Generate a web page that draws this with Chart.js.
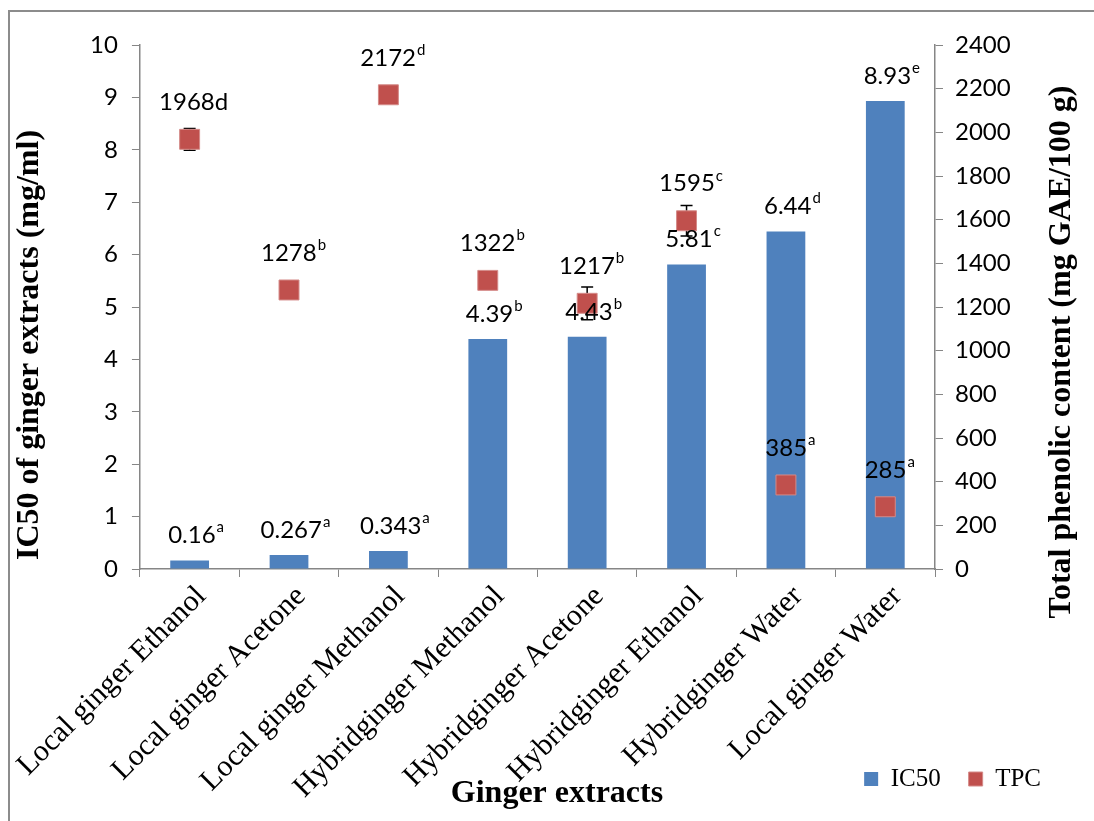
<!DOCTYPE html>
<html><head><meta charset="utf-8">
<script src="https://cdn.jsdelivr.net/npm/chart.js@4"></script>
<style>html,body{margin:0;padding:0;background:#fff}#wrap{width:1094px;height:821px}</style>
</head><body><div id="wrap"><canvas id="c" width="1094" height="821"></canvas></div>
<script>
const categories = ['Local ginger Ethanol','Local ginger Acetone','Local ginger Methanol','Hybridginger Methanol','Hybridginger Acetone','Hybridginger Ethanol','Hybridginger Water','Local ginger Water'];
const ic50Values = [0.16, 0.267, 0.343, 4.39, 4.43, 5.81, 6.44, 8.93];
const ic50Letters = ['a','a','a','b','b','c','d','e'];
const tpcValues = [1968, 1278, 2172, 1322, 1217, 1595, 385, 285];
const tpcErrors = [50, 0, 0, 0, 75, 70, 0, 0];
const tpcLetters = ['d','b','d','b','b','c','a','a'];
const tpcLetterSuper = [false, true, true, true, true, true, true, true];
const leftAxisRange = [0, 10, 1];
const rightAxisRange = [0, 2400, 200];
const xTitle = 'Ginger extracts';
const leftTitle = 'IC50 of ginger extracts (mg/ml)';
const rightTitle = 'Total phenolic content (mg GAE/100 g)';

const serif = "'Liberation Serif', 'Times New Roman', serif";
const sans = "Lato, 'Liberation Sans', sans-serif";
const axisGray = '#868686';

function drawLabel(ctx, x, y, main, sup, isSup) {
  ctx.save();
  ctx.fillStyle = '#000';
  ctx.textBaseline = 'middle';
  ctx.font = '24px ' + sans;
  const wMain = ctx.measureText(main).width;
  let wSup;
  if (isSup) { ctx.font = '15px ' + sans; wSup = ctx.measureText(sup).width; }
  else { wSup = ctx.measureText(sup).width; }
  const total = wMain + wSup;
  let sx = x - total / 2;
  ctx.font = '24px ' + sans;
  ctx.textAlign = 'left';
  ctx.fillText(main, sx, y);
  if (isSup) { ctx.font = '15px ' + sans; ctx.fillText(sup, sx + wMain + 1, y - 8); }
  else { ctx.fillText(sup, sx + wMain, y); }
  ctx.restore();
}

function drawTitle(ctx, text, x, y, rot) {
  ctx.save();
  ctx.translate(x, y);
  ctx.rotate(rot);
  ctx.fillStyle = '#000';
  ctx.font = 'bold 32px ' + serif;
  ctx.textAlign = 'center';
  ctx.textBaseline = 'middle';
  ctx.fillText(text, 0, 0);
  ctx.restore();
}

const annot = {
  id: 'annot',
  beforeDraw(chart) {
    const ctx = chart.ctx;
    ctx.save();
    ctx.fillStyle = '#fff';
    ctx.fillRect(0, 0, chart.width, chart.height);
    ctx.strokeStyle = '#8c8c8c';
    ctx.lineWidth = 2;
    ctx.strokeRect(9, 11, chart.width + 20, chart.height + 20);
    ctx.restore();
  },
  afterLayout(chart) {
    const lg = chart.legend;
    const h = lg.bottom - lg.top;
    lg.top = 770 - h / 2; lg.bottom = lg.top + h;
    const w = lg.right - lg.left;
    lg.right = 1069; lg.left = lg.right - w;
    chart.scales.x.bottom = chart.height;
  },
  beforeDatasetDraw(chart, args) {
    if (args.index !== 1) return;
    const ctx = chart.ctx, x = chart.scales.x, y1 = chart.scales.y1;
    ctx.save();
    ctx.strokeStyle = '#000';
    ctx.lineWidth = 1.5;
    tpcValues.forEach((v, i) => {
      const e = tpcErrors[i];
      if (!e) return;
      const cx = x.getPixelForValue(i);
      const yt = y1.getPixelForValue(v + e), yb = y1.getPixelForValue(v - e);
      ctx.beginPath();
      ctx.moveTo(cx, yt); ctx.lineTo(cx, yb);
      ctx.moveTo(cx - 6, yt); ctx.lineTo(cx + 6, yt);
      ctx.moveTo(cx - 6, yb); ctx.lineTo(cx + 6, yb);
      ctx.stroke();
    });
    ctx.restore();
  },
  afterDatasetsDraw(chart) {
    const ctx = chart.ctx, x = chart.scales.x, y = chart.scales.y, y1 = chart.scales.y1;
    ic50Values.forEach((v, i) => {
      drawLabel(ctx, x.getPixelForValue(i) + 6, y.getPixelForValue(v) - 25, String(v), ic50Letters[i], true);
    });
    tpcValues.forEach((v, i) => {
      drawLabel(ctx, x.getPixelForValue(i) + 4, y1.getPixelForValue(v) - 37, String(v), tpcLetters[i], tpcLetterSuper[i]);
    });
  },
  afterDraw(chart) {
    const ctx = chart.ctx;
    drawTitle(ctx, xTitle, 557, 794, 0);
    drawTitle(ctx, leftTitle, 30, 345, -Math.PI / 2);
    drawTitle(ctx, rightTitle, 1062, 352, -Math.PI / 2);
  }
};

new Chart(document.getElementById('c'), {
  type: 'bar',
  data: {
    labels: categories,
    datasets: [
      { type: 'bar', label: 'IC50', data: ic50Values, yAxisID: 'y', backgroundColor: '#4F81BD', borderWidth: 0,
        barPercentage: 0.39, categoryPercentage: 1, order: 2, pointStyle: 'rect' },
      { type: 'line', label: 'TPC', data: tpcValues, yAxisID: 'y1', showLine: false,
        pointStyle: 'rect', pointRadius: 14.1, pointHoverRadius: 14.1, backgroundColor: '#C0504D',
        borderColor: '#D48A88', borderWidth: 1, order: 1 }
    ]
  },
  options: {
    responsive: false,
    animation: false,
    devicePixelRatio: 1,
    layout: { padding: { left: 10, right: 10, top: 45, bottom: 0 } },
    plugins: {
      tooltip: { enabled: false },
      legend: {
        position: 'bottom', align: 'end',
        labels: {
          font: { family: serif, size: 25 }, color: '#000',
          boxWidth: 14, boxHeight: 14, padding: 28,
          sort: (a, b) => a.datasetIndex - b.datasetIndex
        }
      }
    },
    scales: {
      x: {
        offset: true,
        grid: { offset: true, drawOnChartArea: false, drawTicks: true, tickLength: 8, color: axisGray },
        border: { display: true, color: axisGray, width: 1.5 },
        ticks: { autoSkip: false, maxRotation: 45, minRotation: 45, color: '#000', font: { family: serif, size: 30 }, padding: 2, labelOffset: 12 },
        title: { display: false },
        afterFit(s) { s.height = 189; }
      },
      y: {
        position: 'left', min: leftAxisRange[0], max: leftAxisRange[1],
        grid: { drawOnChartArea: false, tickLength: 8, color: axisGray },
        border: { display: true, color: axisGray, width: 1.5 },
        ticks: { stepSize: leftAxisRange[2], color: '#000', font: { family: sans, size: 24 }, padding: 14 },
        title: { display: false },
        afterFit(s) { s.width = 127; }
      },
      y1: {
        position: 'right', min: rightAxisRange[0], max: rightAxisRange[1],
        grid: { drawOnChartArea: false, tickLength: 8, color: axisGray },
        border: { display: true, color: axisGray, width: 1.5 },
        ticks: { stepSize: rightAxisRange[2], color: '#000', font: { family: sans, size: 24 }, padding: 12,
                 callback: (v) => String(v) },
        title: { display: false },
        afterFit(s) { s.width = 149; }
      }
    }
  },
  plugins: [annot]
});
</script></body></html>
